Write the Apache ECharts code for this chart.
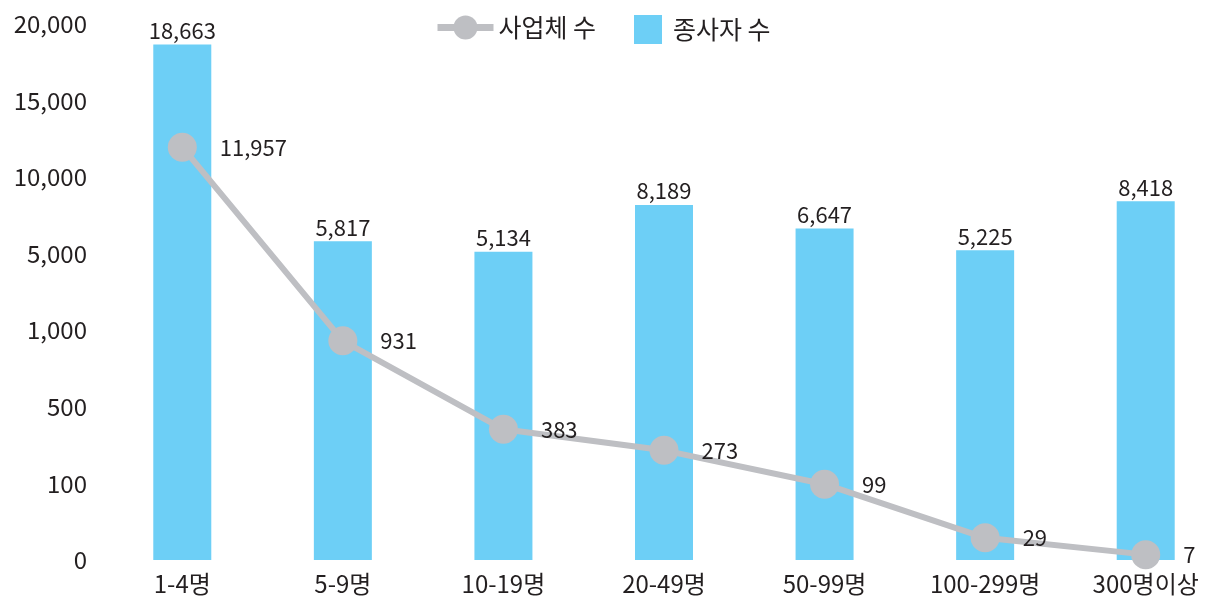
<!DOCTYPE html>
<html><head><meta charset="utf-8">
<script src="https://cdn.jsdelivr.net/npm/echarts@6/dist/echarts.min.js"></script>
<style>html,body{margin:0;padding:0;background:#fff;overflow:hidden}#c{width:1226px;height:602px}</style>
</head><body><div id="c"></div>
<script>
const categories = ['1-4명','5-9명','10-19명','20-49명','50-99명','100-299명','300명이상'];
const workers = [18663, 5817, 5134, 8189, 6647, 5225, 8418];
const businesses = [11957, 931, 383, 273, 99, 29, 7];
const yTicks = [0, 100, 500, 1000, 5000, 10000, 15000, 20000];

// piecewise-linear (broken) scale: each tick interval takes one unit
function toScale(v){
  for (let i = 0; i < yTicks.length - 1; i++) {
    if (v <= yTicks[i+1]) return i + (v - yTicks[i]) / (yTicks[i+1] - yTicks[i]);
  }
  return yTicks.length - 1;
}
const fmt = v => v.toLocaleString('en-US');
const FONT = '"Noto Sans CJK KR", "Noto Sans", sans-serif';
const TXT = '#231f20';

const chart = echarts.init(document.getElementById('c'));
chart.setOption({
  animation: false,
  textStyle: { fontFamily: FONT },
  legend: [
    {
      top: 10, left: 429, itemWidth: 56, itemHeight: 30, itemGap: 0,
      textStyle: { fontSize: 25, color: TXT, fontFamily: FONT },
      data: [{ name: '사업체 수', lineStyle: { width: 7, color: '#bebfc3' } }]
    },
    {
      top: 10, left: 629, itemWidth: 28, itemHeight: 29, itemGap: 0,
      textStyle: { fontSize: 25, color: TXT, fontFamily: FONT, padding: [0, 0, 0, 6] },
      data: [{ name: '종사자 수', icon: 'rect' }]
    }
  ],
  grid: { left: 102, right: 0, top: 24, bottom: 42, containLabel: false },
  xAxis: {
    type: 'category', data: categories,
    axisLine: { show: false }, axisTick: { show: false },
    axisLabel: { fontSize: 24, color: TXT, margin: 12, fontFamily: FONT, interval: 0 }
  },
  yAxis: {
    type: 'value', min: 0, max: yTicks.length - 1, interval: 1,
    splitLine: { show: false }, axisLine: { show: false }, axisTick: { show: false },
    axisLabel: { fontSize: 24, color: TXT, margin: 15, fontFamily: FONT,
      formatter: v => fmt(yTicks[Math.round(v)]) }
  },
  series: [
    {
      name: '종사자 수', type: 'bar', barWidth: 58,
      itemStyle: { color: '#6dcff6' },
      data: workers.map(v => toScale(v)),
      label: { show: true, position: 'top', distance: 3, fontSize: 22, color: TXT, fontFamily: FONT,
        formatter: p => fmt(workers[p.dataIndex]) },
      z: 1
    },
    {
      name: '사업체 수', type: 'line', symbol: 'circle', symbolSize: 29,
      lineStyle: { color: '#bebfc3', width: 6 },
      itemStyle: { color: '#bebfc3' },
      data: businesses.map(v => toScale(v)),
      label: { show: true, position: 'right', distance: 23, fontSize: 22, color: TXT, fontFamily: FONT,
        formatter: p => fmt(businesses[p.dataIndex]) },
      z: 3
    }
  ]
});
</script></body></html>
